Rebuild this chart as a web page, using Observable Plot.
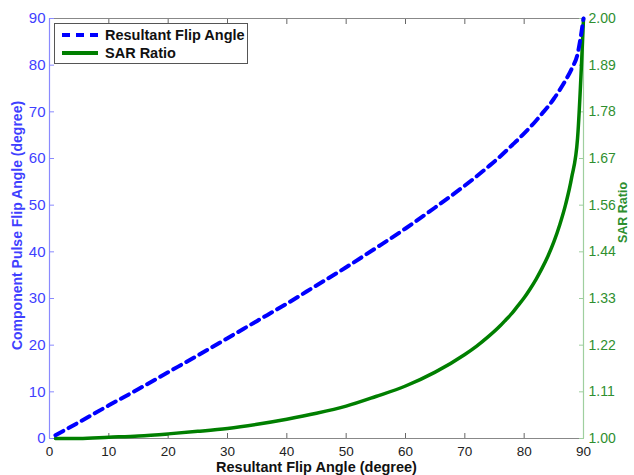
<!DOCTYPE html>
<html>
<head>
<meta charset="utf-8">
<script src="https://cdn.jsdelivr.net/npm/d3@7"></script>
<script src="https://cdn.jsdelivr.net/npm/@observablehq/plot@0.6"></script>
<style>
  html, body { margin: 0; padding: 0; background: #fff; }
  #wrap { position: relative; width: 634px; height: 475px; font-family: "Liberation Sans", Arial, sans-serif; }
  #legend { position: absolute; left: 54px; top: 23px; width: 192px; height: 39px; border: 1px solid #555; background: #fff;
            font: bold 14.5px "Liberation Sans", Arial, sans-serif; color: #111; }
  .row { position: absolute; left: 6px; height: 16px; display: flex; align-items: center; white-space: nowrap; }
  .row svg { margin-right: 7px; }
</style>
</head>
<body>
<div id="wrap">
  <div id="chart"></div>
  <div id="legend">
    <div class="row" style="top:3px"><svg width="37" height="8"><line x1="1" y1="4" x2="37" y2="4" stroke="#0000ff" stroke-width="4" stroke-dasharray="8,6"/></svg>Resultant Flip Angle</div>
    <div class="row" style="top:21px"><svg width="37" height="8"><line x1="1" y1="4" x2="37" y2="4" stroke="#007f00" stroke-width="4"/></svg>SAR Ratio</div>
  </div>
</div>
<script>
// Resultant flip angle (x, degree)
const resultant = [1, 5, 10, 15, 20, 25, 30, 35, 40, 45, 50, 55, 60, 65, 70, 72, 74, 76, 77, 78, 79, 80, 81, 82, 83, 84, 85, 86, 87, 88, 89, 90];
// Component pulse flip angle (degree), left axis
const component = [0.7, 3.5, 7.1, 10.6, 14.2, 17.8, 21.5, 25.2, 28.9, 32.8, 36.7, 40.8, 45.0, 49.5, 54.2, 56.2, 58.3, 60.5, 61.7, 62.9, 64.1, 65.4, 66.7, 68.1, 69.6, 71.1, 72.8, 74.7, 76.8, 79.2, 82.4, 90];
// SAR ratio, right axis
const sarRatio = [1.000, 1.000, 1.003, 1.006, 1.011, 1.017, 1.024, 1.034, 1.046, 1.060, 1.077, 1.100, 1.125, 1.158, 1.200, 1.220, 1.243, 1.269, 1.284, 1.299, 1.317, 1.335, 1.356, 1.379, 1.405, 1.434, 1.468, 1.509, 1.558, 1.621, 1.715, 2.000];

const xTicks = [0, 10, 20, 30, 40, 50, 60, 70, 80, 90];
const yTicks = [0, 10, 20, 30, 40, 50, 60, 70, 80, 90];
const sarTickLabels = ["1.00", "1.11", "1.22", "1.33", "1.44", "1.56", "1.67", "1.78", "1.89", "2.00"];
const sarMin = 1.0, sarMax = 2.0;

const blueData = resultant.map((x, i) => ({x, y: component[i]}));
const greenData = resultant.map((x, i) => ({x, sar: sarRatio[i]}));
const yMax = yTicks[yTicks.length - 1];
const toLeft = d => (d.sar - sarMin) / (sarMax - sarMin) * yMax;

const xLo = xTicks[0], xHi = xTicks[xTicks.length - 1];
const yLo = yTicks[0], yHi = yTicks[yTicks.length - 1];

const blueAxis = "#3f3fff", blueLine = "#8a8aff";
const greenAxis = "#2f8f2f", greenLine = "#9fcf9f";

const chart = Plot.plot({
  width: 634,
  height: 475,
  marginLeft: 49,
  marginRight: 51,
  marginTop: 18,
  marginBottom: 37,
  style: {fontFamily: "Liberation Sans, Arial, sans-serif", fontSize: "14px", background: "#fff"},
  x: {domain: [xLo, xHi]},
  y: {domain: [yLo, yHi]},
  marks: [
    // frame lines
    Plot.ruleY([yHi], {stroke: "#888", strokeWidth: 1}),
    Plot.ruleY([yLo], {stroke: "#888", strokeWidth: 1.2}),
    // tick marks (inward)
    Plot.axisX({anchor: "bottom", ticks: xTicks, tickSize: -5, tickFormat: () => "", stroke: "#666", label: null}),
    Plot.axisX({anchor: "top", ticks: xTicks, tickSize: -5, tickFormat: () => "", stroke: "#666", label: null}),
    Plot.axisX({anchor: "bottom", ticks: xTicks, tickSize: 0, tickPadding: 8, fill: "#222", fontSize: 13.5, label: null}),
    Plot.axisY({anchor: "left", ticks: yTicks, tickSize: -5, tickFormat: () => "", stroke: blueLine, label: null}),
    Plot.axisY({anchor: "left", ticks: yTicks, tickSize: 0, tickPadding: 4, fill: blueAxis, fontSize: 15, label: null}),
    Plot.axisY({anchor: "right", ticks: yTicks, tickSize: -5, tickFormat: () => "", stroke: greenLine, label: null}),
    Plot.axisY({anchor: "right", ticks: yTicks, tickSize: 0, tickPadding: 5, fill: greenAxis, fontSize: 14, label: null,
      tickFormat: d => sarTickLabels[yTicks.indexOf(d)]}),
    Plot.ruleX([xLo], {stroke: blueLine, strokeWidth: 1.2}),
    Plot.ruleX([xHi], {stroke: greenLine, strokeWidth: 1.2}),
    // data
    Plot.line(greenData, {x: "x", y: toLeft, stroke: "#007f00", strokeWidth: 3.5, curve: "monotone-x"}),
    Plot.line(blueData, {x: "x", y: "y", stroke: "#0000ff", strokeWidth: 4, strokeDasharray: "9,6", curve: "monotone-x"}),
    // titles
    Plot.text(["Resultant Flip Angle (degree)"], {frameAnchor: "bottom", textAnchor: "middle", lineAnchor: "middle", dy: 29, fontWeight: "bold", fontSize: 14.5, fill: "#111"}),
    Plot.text(["Component Pulse Flip Angle (degree)"], {frameAnchor: "left", textAnchor: "middle", lineAnchor: "middle", dx: -32, dy: -3, rotate: -90, fontWeight: "bold", fontSize: 14, fill: blueAxis}),
    Plot.text(["SAR Ratio"], {frameAnchor: "right", textAnchor: "middle", lineAnchor: "middle", dx: 39, dy: -16, rotate: -90, fontWeight: "bold", fontSize: 12.5, fill: greenAxis})
  ]
});
document.getElementById("chart").appendChild(chart);
</script>
</body>
</html>
